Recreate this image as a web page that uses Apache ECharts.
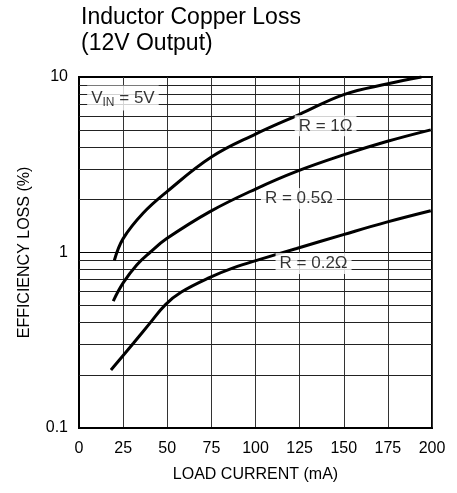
<!DOCTYPE html>
<html>
<head>
<meta charset="utf-8">
<script src="https://cdn.jsdelivr.net/npm/echarts@6/dist/echarts.min.js"></script>
<style>html,body{margin:0;padding:0;background:#fff;}#c{width:457px;height:493px;}</style>
</head>
<body>
<div id="c"></div>
<script>
const xTicks = [0, 25, 50, 75, 100, 125, 150, 175, 200];
const yMajor = [0.1, 1, 10];
const yMinor = [0.2, 0.3, 0.4, 0.5, 0.6, 0.7, 0.8, 0.9, 2, 3, 4, 5, 6, 7, 8, 9];

const loadR1 = [20, 25, 36.4, 50, 75, 100, 125, 150, 175, 194];
const lossR1 = [0.90, 1.2, 1.68, 2.23, 3.5, 4.73, 6.13, 7.94, 9.15, 10.0];

const loadR05 = [19.4, 25.1, 32.7, 40.2, 49.7, 74.2, 100, 123.3, 149.8, 174.3, 199.3];
const lossR05 = [0.529, 0.673, 0.85, 1.0, 1.2, 1.71, 2.3, 2.9, 3.6, 4.29, 5.0];

const loadR02 = [18.1, 30.8, 40.2, 49, 58, 74.2, 87.4, 102.5, 123.3, 149.8, 174.3, 199.3];
const lossR02 = [0.214, 0.304, 0.396, 0.505, 0.595, 0.721, 0.817, 0.913, 1.054, 1.265, 1.49, 1.73];

const noteText = ['{a|V}{b|IN}{a| = 5V}', 'R = 1Ω', 'R = 0.5Ω', 'R = 0.2Ω'];
const noteX = [24.9, 139.7, 124.6, 132.9];
const noteY = [7.6, 5.27, 2.03, 0.866];

const FONT = '"Liberation Sans", Arial, sans-serif';
const pairs = (xs, ys) => xs.map((x, i) => [x, ys[i]]);

const chart = echarts.init(document.getElementById('c'), null, {renderer: 'canvas'});
const curve = (name, xs, ys) => ({
  name, type: 'line', data: pairs(xs, ys), smooth: 0.4, showSymbol: false, symbol: 'none',
  lineStyle: {color: '#000', width: 3}, z: 5, silent: true
});

const option = {
  animation: false,
  backgroundColor: '#fff',
  textStyle: {fontFamily: FONT},
  title: {
    text: 'Inductor Copper Loss\n(12V Output)',
    left: 76, top: 0,
    textStyle: {fontFamily: FONT, fontSize: 23, fontWeight: 'normal', color: '#000', lineHeight: 26}
  },
  grid: {left: 79, right: 25, top: 77, bottom: 65, show: true, borderColor: '#000', borderWidth: 2, backgroundColor: 'transparent'},
  xAxis: {
    type: 'value', min: xTicks[0], max: xTicks[xTicks.length - 1], interval: 25,
    name: 'LOAD CURRENT (mA)', nameLocation: 'middle', nameGap: 39,
    nameTextStyle: {fontFamily: FONT, fontSize: 16, color: '#000'},
    axisLine: {show: true, lineStyle: {color: '#000', width: 2}},
    axisTick: {show: false},
    axisLabel: {fontFamily: FONT, fontSize: 16, color: '#000', margin: 13},
    splitLine: {show: true, lineStyle: {color: '#333', width: 1}}
  },
  yAxis: {
    type: 'log', logBase: 10, min: yMajor[0], max: yMajor[yMajor.length - 1],
    name: 'EFFICIENCY LOSS (%)', nameLocation: 'middle', nameGap: 46, nameRotate: 90,
    nameTextStyle: {fontFamily: FONT, fontSize: 16, color: '#000'},
    axisLine: {show: true, lineStyle: {color: '#000', width: 2}},
    axisTick: {show: false},
    axisLabel: {fontFamily: FONT, fontSize: 16, color: '#000', margin: 11, formatter: v => String(+v.toPrecision(3))},
    splitLine: {show: true, lineStyle: {color: '#000', width: 1}},
    minorTick: {show: false}, minorSplitLine: {show: false}
  },
  series: [
    Object.assign(curve('R1', loadR1, lossR1), {
      markLine: {
        silent: true, symbol: ['none', 'none'], animation: false,
        label: {show: false},
        lineStyle: {color: '#222', width: 1, type: 'solid'},
        data: yMinor.map(v => ({yAxis: v}))
      }
    }),
    curve('R05', loadR05, lossR05),
    curve('R02', loadR02, lossR02),
    {
      type: 'scatter', symbolSize: 0, silent: true, z: 10,
      data: noteX.map((x, i) => ({value: [x, noteY[i]], name: noteText[i]})),
      label: {
        show: true, position: 'inside', formatter: p => p.name,
        fontFamily: FONT, fontSize: 17, color: '#000', backgroundColor: '#fff', padding: [2, 4],
        rich: {
          a: {fontFamily: FONT, fontSize: 17, color: '#000'},
          b: {fontFamily: FONT, fontSize: 12, color: '#000', padding: [9, 0, 0, 0]}
        }
      }
    }
  ]
};
chart.setOption(option);
</script>
</body>
</html>
